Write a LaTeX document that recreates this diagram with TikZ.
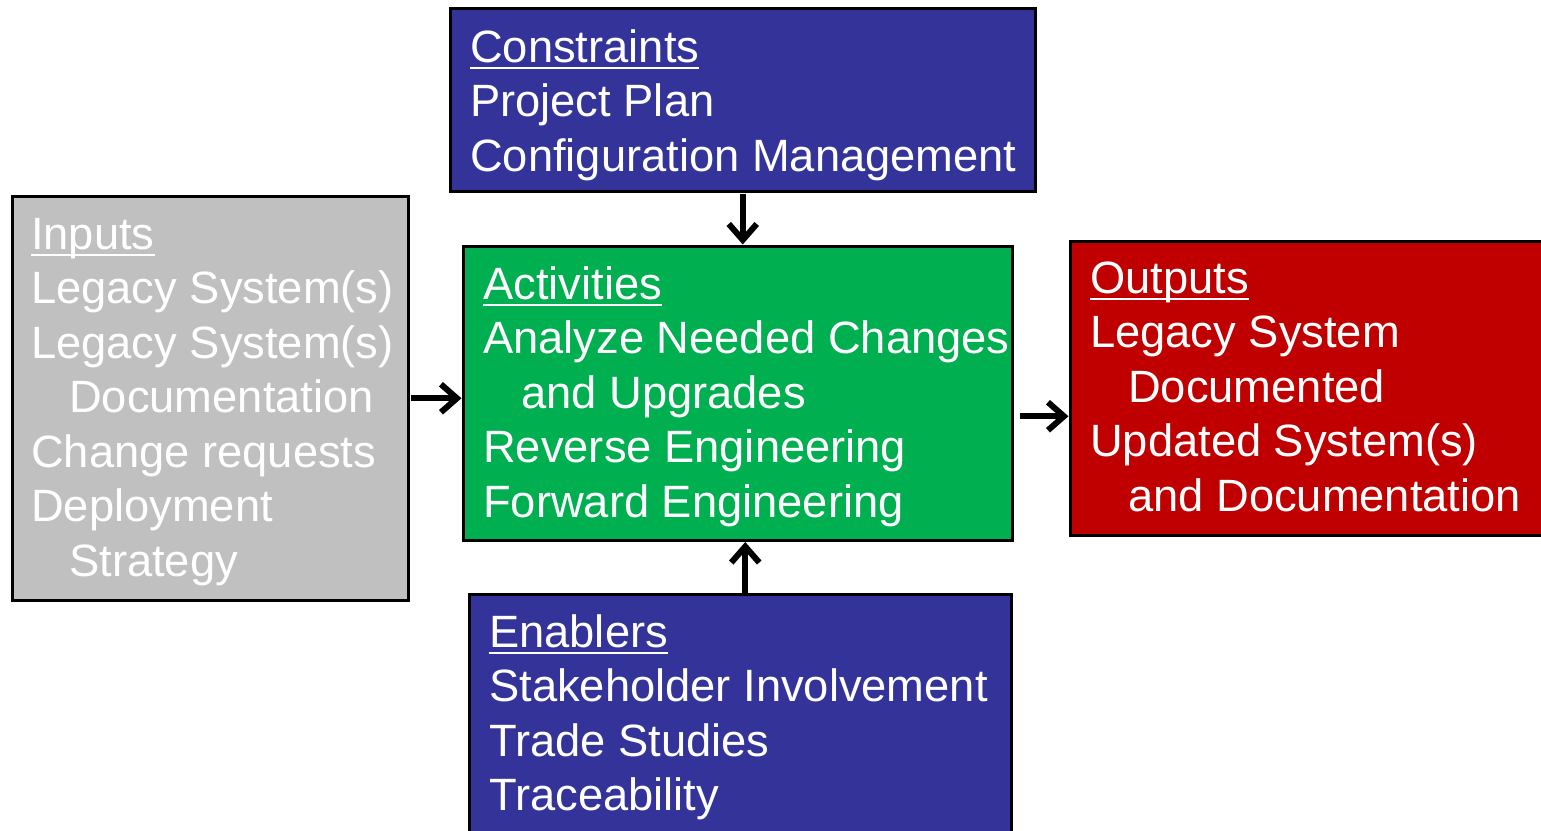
\documentclass[tikz,border=0pt]{standalone}
\usepackage{fontspec}
\setmainfont{Liberation Sans}
\usetikzlibrary{arrows.meta}
\newcommand\hdul[1]{\leavevmode\setbox0=\hbox{#1}\rlap{\rule[-7pt]{\wd0}{2.5pt}}\box0}
\newcommand\ind{\hspace*{38pt}}
\definecolor{cblue}{HTML}{333399}
\definecolor{cgreen}{HTML}{00B050}
\definecolor{cred}{HTML}{C00000}
\definecolor{cgrey}{HTML}{C0C0C0}
\begin{document}
\begin{tikzpicture}[x=1pt,y=-1pt,
  box/.style={draw=black,line width=2.5pt,anchor=north west,inner sep=0pt},
  txt/.style={anchor=base west,inner sep=0pt,text=white,font=\fontsize{45.3}{54.5}\selectfont},
  arr/.style={line width=6pt,-{Straight Barb[length=16pt,width=28pt]},shorten >=0.5pt}]
\useasboundingbox (0,0) rectangle (1541,830);
\clip (0,0) rectangle (1541,830);
\fill[white] (0,0) rectangle (1541,830);
\node[box,fill=cblue,minimum width=585pt,minimum height=183pt] (cons) at (449,7) {};
\node[box,fill=cgrey,minimum width=396pt,minimum height=404pt] (inp) at (11,195) {};
\node[box,fill=cgreen,minimum width=549pt,minimum height=294pt] (act) at (462,245) {};
\node[box,fill=cred,minimum width=500pt,minimum height=294pt] (outp) at (1069,240) {};
\node[box,fill=cblue,minimum width=542pt,minimum height=270pt] (enab) at (468,593) {};

\node[txt] (constxt) at (470,62) {\parbox[t]{600pt}{\raggedright\hdul{Constraints}\\Project Plan\\Configuration Management}};
\node[txt] (inptxt) at (31,249) {\parbox[t]{400pt}{\raggedright\hdul{Inputs}\\Legacy System(s)\\Legacy System(s)\\\ind Documentation\\Change requests\\Deployment\\\ind Strategy}};
\node[txt] (acttxt) at (483,299) {\parbox[t]{600pt}{\raggedright\hdul{Activities}\\Analyze Needed Changes\\\ind and Upgrades\\Reverse Engineering\\Forward Engineering}};
\node[txt] (outtxt) at (1090,293) {\parbox[t]{500pt}{\raggedright\hdul{Outputs}\\Legacy System\\\ind Documented\\Updated System(s)\\\ind and Documentation}};
\node[txt] (enabtxt) at (489,647) {\parbox[t]{600pt}{\raggedright\hdul{Enablers}\\Stakeholder Involvement\\Trade Studies\\Traceability}};

\draw[arr] ([yshift=-1pt]cons.south) -- (cons.south |- act.north);
\draw[arr] ([xshift=1pt]inp.east) -- (inp.east -| act.west);
\draw[arr] ([shift={(6pt,-23pt)}]act.east) -- ([yshift=-23pt]act.east -| outp.west);
\draw[arr] ([xshift=5pt]enab.north) -- ([xshift=5pt]enab.north |- act.south);
\end{tikzpicture}
\end{document}
